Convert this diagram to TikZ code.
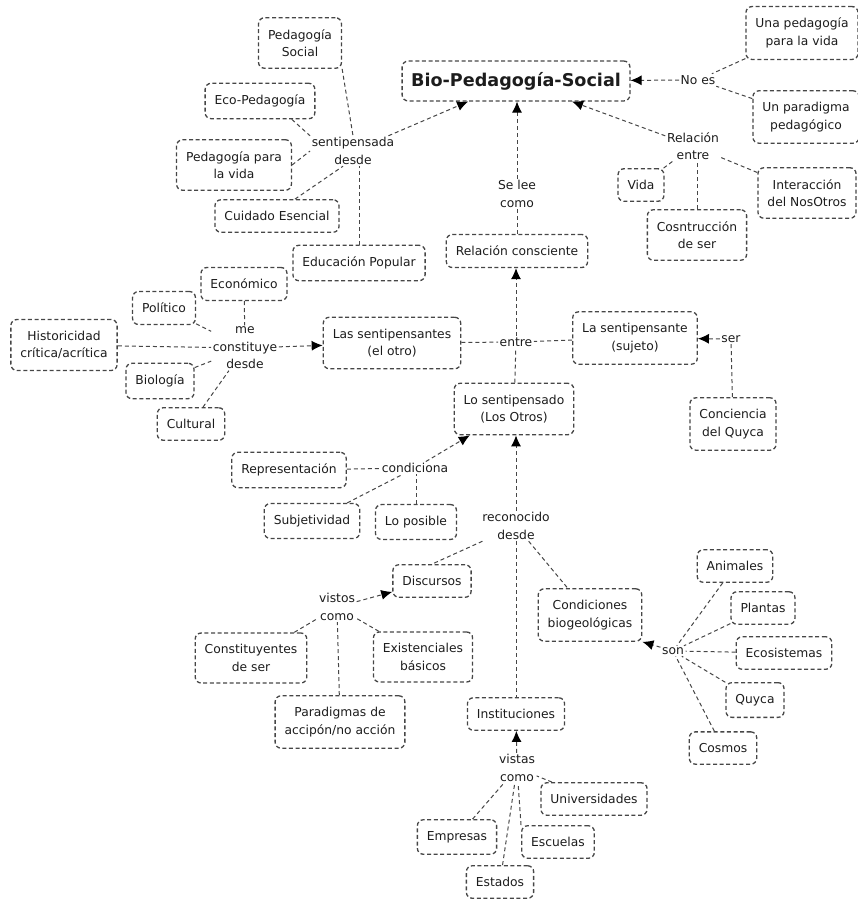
\documentclass[tikz,border=0pt]{standalone}
\usepackage{fontspec}
\setmainfont{DejaVu Sans}
\usetikzlibrary{arrows.meta}

\definecolor{borde}{HTML}{464646}
\definecolor{texto}{HTML}{1C1C1C}

\begin{document}
\begin{tikzpicture}[x=1pt, y=-1pt,
  every node/.style={font=\fontsize{12.3}{17.5}\selectfont, text=texto, align=center},
  concepto/.style={draw=borde, line width=1.3pt, dash pattern=on 4pt off 2.6pt,
    rounded corners=6pt, inner xsep=9.5pt, inner ysep=11.5pt},
  enlace/.style={inner sep=1.5pt},
  linea/.style={draw=borde, line width=1pt, dash pattern=on 4pt off 3pt},
  flecha/.style={linea, -{Latex[length=11pt, width=10pt, color=black]}}]
  \useasboundingbox (0,0) rectangle (857,899);

  % concepto central
  \node[concepto, font=\fontsize{17.6}{20}\selectfont\bfseries, inner xsep=9pt, inner ysep=11pt]
    (bps) at (516,81) {Bio-Pedagogía-Social};

  % sentipensada desde
  \node[concepto] (ps) at (300,43) {Pedagogía\\Social};
  \node[concepto] (eco) at (260,101) {Eco-Pedagogía};
  \node[concepto] (ppv) at (234,165) {Pedagogía para\\la vida};
  \node[concepto] (ce) at (277,216) {Cuidado Esencial};
  \node[concepto] (ep) at (359,263) {Educación Popular};
  \node[enlace] (sd) at (353,151) {sentipensada\\desde};

  \draw[linea] (ps.south east) -- (sd.north);
  \draw[linea] (eco.-30) -- (sd.north west);
  \draw[linea] (ppv.east) -- (sd.west);
  \draw[linea] ([xshift=18pt]ce.north) -- ([xshift=-10pt]sd.south);
  \draw[linea] (ep.north) -- (ep.north |- sd.south);
  \draw[flecha] (sd) -- (bps);

  % no es
  \node[concepto] (upv) at (802,33) {Una pedagogía\\para la vida};
  \node[concepto] (upp) at (806,117) {Un paradigma\\pedagógico};
  \node[enlace] (noes) at (698,80) {No es};

  \draw[linea] (upv) -- (noes);
  \draw[linea] (upp) -- (noes);
  \draw[flecha] (noes) -- (bps);

  % relacion entre
  \node[enlace] (re) at (693,146) {Relación\\entre};
  \node[concepto] (vida) at (641,185) {Vida};
  \node[concepto] (cs) at (697,235) {Cosntrucción\\de ser};
  \node[concepto] (ino) at (807,193) {Interacción\\del NosOtros};

  \draw[flecha] (re) -- (bps);
  \draw[linea] (vida) -- (re);
  \draw[linea] (cs.north) -- (cs.north |- re.south);
  \draw[linea] (ino) -- (re);

  % se lee como
  \node[enlace] (slc) at (517,194) {Se lee\\como};
  \node[concepto] (rc) at (517,251) {Relación consciente};

  \draw[linea] (rc) -- (slc);
  \draw[flecha] (slc) -- (slc |- bps.south);

  % me constituye desde
  \node[concepto] (econ) at (244,284) {Económico};
  \node[concepto] (pol) at (164,308) {Político};
  \node[concepto] (hist) at (64,345) {Historicidad\\crítica/acrítica};
  \node[concepto] (bio) at (160,381) {Biología};
  \node[concepto] (cul) at (191,424) {Cultural};
  \node[enlace] (mcd) at (245,348) {me\\constituye\\desde};
  \node[concepto] (lst) at (392,343) {Las sentipensantes\\(el otro)};

  \draw[linea] (econ) -- (mcd);
  \draw[linea] (pol) -- (mcd);
  \draw[linea] (hist) -- (mcd);
  \draw[linea] (bio) -- (mcd);
  \draw[linea] (cul) -- (mcd);
  \draw[flecha] (mcd) -- (lst);

  % entre
  \node[enlace] (en) at (516,342) {entre};
  \node[concepto] (ls) at (635,338) {La sentipensante\\(sujeto)};
  \node[concepto] (lsd) at (514,409) {Lo sentipensado\\(Los Otros)};
  \node[enlace] (ser) at (731,339) {ser};
  \node[concepto] (cq) at (733,424) {Conciencia\\del Quyca};

  \draw[linea] (lst) -- (en);
  \draw[linea] (ls) -- (en);
  \draw[linea] (lsd) -- (en);
  \draw[flecha] (en) -- (en |- rc.south);
  \draw[linea] (cq) -- (ser);
  \draw[flecha] (ser) -- (ls);

  % condiciona
  \node[concepto] (rep) at (289,470) {Representación};
  \node[enlace] (cond) at (415,468) {condiciona};
  \node[concepto] (sub) at (312,521) {Subjetividad};
  \node[concepto] (lp) at (416,522) {Lo posible};

  \draw[linea] (rep) -- (cond);
  \draw[linea] (sub) -- (cond);
  \draw[linea] (lp.north) -- (lp.north |- cond.south);
  \draw[flecha] (cond) -- (lsd);

  % reconocido desde
  \node[enlace] (rd) at (516,526) {reconocido\\desde};
  \node[concepto] (disc) at (432,581) {Discursos};
  \node[concepto] (cbio) at (590,615) {Condiciones\\biogeológicas};
  \node[concepto] (inst) at (516,714) {Instituciones};

  \draw[flecha] (rd) -- (rd |- lsd.south);
  \draw[linea] (rd) -- (disc.north);
  \draw[linea] (rd) -- (cbio);
  \draw[linea] (rd) -- (inst);

  % vistos como
  \node[enlace] (vc) at (337,607) {vistos\\como};
  \node[concepto] (cons) at (251,658) {Constituyentes\\de ser};
  \node[concepto] (exist) at (423,657) {Existenciales\\básicos};
  \node[concepto] (par) at (340,722) {Paradigmas de\\accipón/no acción};

  \draw[flecha] (vc) -- (disc);
  \draw[linea] (cons) -- (vc);
  \draw[linea] (exist) -- (vc);
  \draw[linea] (par) -- (vc);

  % son
  \node[enlace] (son) at (673,651) {son};
  \node[concepto] (ani) at (735,566) {Animales};
  \node[concepto] (pla) at (763,608) {Plantas};
  \node[concepto] (ecos) at (784,653) {Ecosistemas};
  \node[concepto] (quy) at (755,700) {Quyca};
  \node[concepto] (cos) at (723,748) {Cosmos};

  \draw[flecha] (son) -- (cbio.south east);
  \draw[linea] (ani) -- (son);
  \draw[linea] (pla) -- (son);
  \draw[linea] (ecos) -- (son);
  \draw[linea] (quy) -- (son);
  \draw[linea] (cos) -- (son);

  % vistas como
  \node[enlace] (vac) at (517,768) {vistas\\como};
  \node[concepto] (univ) at (594,799) {Universidades};
  \node[concepto] (emp) at (457,837) {Empresas};
  \node[concepto] (esc) at (558,842) {Escuelas};
  \node[concepto] (est) at (500,882) {Estados};

  \draw[flecha] (vac) -- (inst);
  \draw[linea] (univ) -- (vac);
  \draw[linea] (emp) -- (vac);
  \draw[linea] (esc.north west) -- (vac);
  \draw[linea] (est) -- (vac);
\end{tikzpicture}
\end{document}
